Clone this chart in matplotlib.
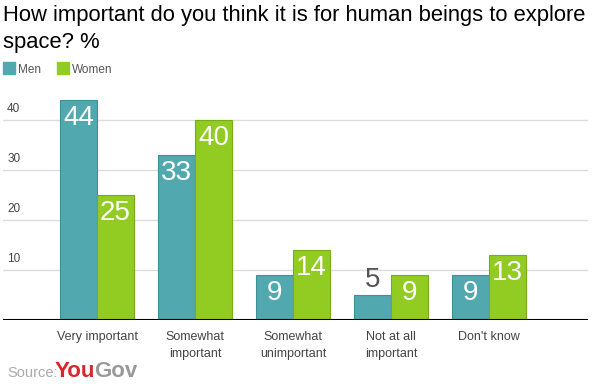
import numpy as np
import matplotlib.pyplot as plt

plt.rcParams['font.family'] = ['Liberation Sans', 'DejaVu Sans']

# data
categories = ["Very important", "Somewhat\nimportant", "Somewhat\nunimportant",
              "Not at all\nimportant", "Don't know"]
men = [44, 33, 9, 5, 9]
women = [25, 40, 14, 9, 13]
yticks = [10, 20, 30, 40]

men_color = "#52a8af"
women_color = "#92cc22"

fig = plt.figure(figsize=(6.0, 3.84), dpi=100)
ax = fig.add_axes([0.005, 0.1667, 0.975, 0.651])

x = np.arange(len(categories))
w = 0.377
bars_m = ax.bar(x - w / 2, men, width=w, color=men_color, edgecolor="#3d9097",
                linewidth=0.8, zorder=3)
bars_w = ax.bar(x + w / 2, women, width=w, color=women_color, edgecolor="#74ad14",
                linewidth=0.8, zorder=3)

# value labels: white inside the bar, grey above when bar is too short
for bars, vals in ((bars_m, men), (bars_w, women)):
    for b, v in zip(bars, vals):
        cx = b.get_x() + b.get_width() / 2
        if v >= 8:
            ax.text(cx, v - 1.0, str(v), ha="center", va="top", color="white",
                    fontsize=20, zorder=4)
        else:
            ax.text(cx, v + 0.3, str(v), ha="center", va="bottom", color="#555555",
                    fontsize=20, zorder=4)

ax.set_xlim(-0.96, 5.01)
ax.set_ylim(0, 50)
for t in yticks:
    ax.axhline(t, color="#dcdcdc", linewidth=1, zorder=1)
    ax.text(0.007, t + 1.0, str(t), transform=ax.get_yaxis_transform(),
            ha="left", va="bottom", fontsize=8.5, color="#444444")
ax.axhline(0, color="black", linewidth=1.5, zorder=5)

ax.set_xticks(x)
ax.set_xticklabels(categories, fontsize=9, color="#444444", linespacing=1.5)
ax.tick_params(axis="x", length=0, pad=8)
ax.set_yticks([])
for s in ax.spines.values():
    s.set_visible(False)

# title, two lines
fig.text(0.005, 1 - 21 / 384, "How important do you think it is for human beings to explore",
         fontsize=15.8, color="black", ha="left", va="baseline")
fig.text(0.005, 1 - 48 / 384, "space? %",
         fontsize=15.8, color="black", ha="left", va="baseline")

# legend
fig.patches.append(plt.Rectangle((3 / 600, 1 - 74 / 384), 12 / 600, 12 / 384,
                                 transform=fig.transFigure, color=men_color))
fig.text(18 / 600, 1 - 73 / 384, "Men", fontsize=8.5, color="#555555", va="baseline")
fig.patches.append(plt.Rectangle((57 / 600, 1 - 74 / 384), 12 / 600, 12 / 384,
                                 transform=fig.transFigure, color=women_color))
fig.text(72 / 600, 1 - 73 / 384, "Women", fontsize=8.5, color="#555555", va="baseline")

# source
fig.text(7 / 600, 1 - 377 / 384, "Source:", fontsize=10.5, color="#aaaaaa", va="baseline")
fig.text(55 / 600, 1 - 377 / 384, "You", fontsize=16, color="#d9262c",
         fontweight="bold", va="baseline")
fig.text(94 / 600, 1 - 377 / 384, "Gov", fontsize=16, color="#9a9a9a",
         fontweight="bold", va="baseline")

fig.savefig("out.png", dpi=100)
